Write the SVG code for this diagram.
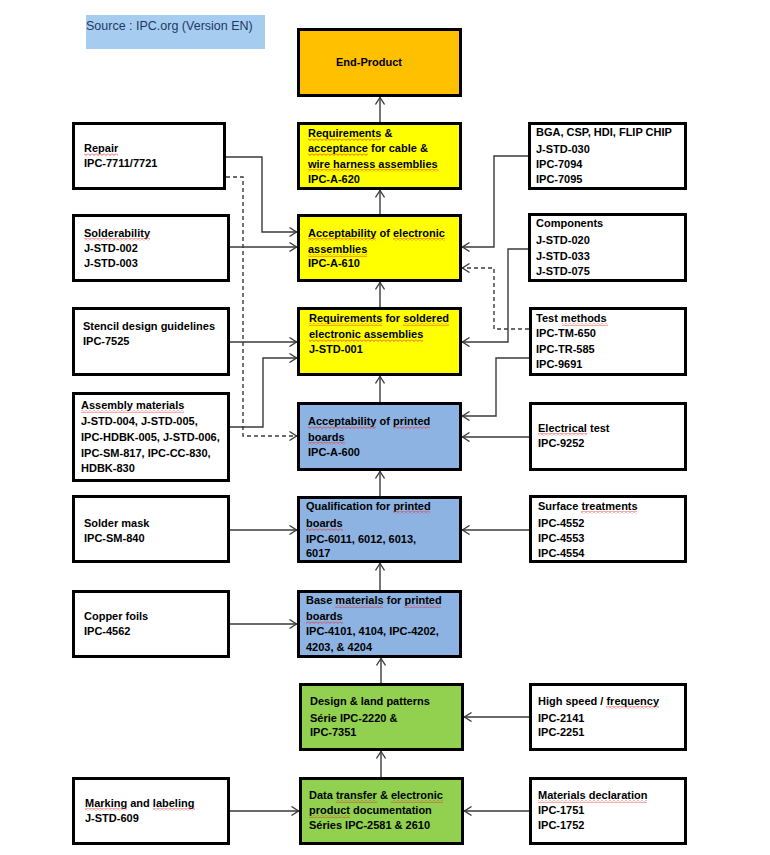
<svg xmlns="http://www.w3.org/2000/svg" width="770" height="855" viewBox="0 0 770 855">
<style>
.b{stroke:#000;stroke-width:3}
.w{fill:#fff}.y{fill:#ffff00}.bl{fill:#8db3e2}.g{fill:#92d050}.o{fill:#ffc000}
text{font-family:"Liberation Sans",Arial,sans-serif;font-size:11px;font-weight:bold;fill:#000}
.c path{fill:none;stroke:#3a3a3a;stroke-width:1.4}
.c .d{stroke-dasharray:4,3}
.s{fill:url(#sq)}
</style>
<defs>
<marker id="a" viewBox="0 0 8 10" refX="8" refY="5" markerWidth="8" markerHeight="10" markerUnits="userSpaceOnUse" orient="auto">
<path d="M0.5,0.5 L7.5,5 L0.5,9.5" fill="none" stroke="#3a3a3a" stroke-width="1.3"/>
</marker>
<pattern id="sq" width="4" height="3" patternUnits="userSpaceOnUse">
<path d="M0,0.5 L2,2.5 L4,0.5" fill="none" stroke="#e8302a" stroke-width="0.8"/>
</pattern>
</defs>
<rect width="770" height="855" fill="#fff"/>
<g id="source">
<rect x="86" y="15" width="179" height="34" fill="#a6cdf0"/>
<text x="86" y="30" style="font-weight:normal;font-size:12.5px;fill:#1f3864">Source : IPC.org (Version EN)</text>
</g>
<g class="c" id="connectors">
<path d="M380,122V97" marker-end="url(#a)"/>
<path d="M380,214V190" marker-end="url(#a)"/>
<path d="M380,307V282" marker-end="url(#a)"/>
<path d="M380,402V376" marker-end="url(#a)"/>
<path d="M380,496V471" marker-end="url(#a)"/>
<path d="M380,590V563" marker-end="url(#a)"/>
<path d="M381,683V658" marker-end="url(#a)"/>
<path d="M381,777V751" marker-end="url(#a)"/>
<path d="M226,157H262V232H297" marker-end="url(#a)"/>
<path class="d" d="M226,177H243V436H297" marker-end="url(#a)"/>
<path d="M230,247H297" marker-end="url(#a)"/>
<path d="M230,342H297" marker-end="url(#a)"/>
<path d="M230,427H263V358H297" marker-end="url(#a)"/>
<path d="M230,530H297" marker-end="url(#a)"/>
<path d="M230,624H297" marker-end="url(#a)"/>
<path d="M230,811H299" marker-end="url(#a)"/>
<path d="M528,156H494V247H462" marker-end="url(#a)"/>
<path d="M528,249H508V342H462" marker-end="url(#a)"/>
<path class="d" d="M529,329H494V268H462" marker-end="url(#a)"/>
<path d="M529,358H496V416H462" marker-end="url(#a)"/>
<path d="M529,437H462" marker-end="url(#a)"/>
<path d="M529,530H462" marker-end="url(#a)"/>
<path d="M529,717H464" marker-end="url(#a)"/>
<path d="M529,811H464" marker-end="url(#a)"/>
</g>
<g id="end-product"><rect class="b o" x="298.5" y="29.5" width="162" height="66"/><text x="336" y="66">End-Product</text></g>
<g id="ipc-a-620"><rect class="b y" x="298.5" y="123.5" width="162" height="65"/>
<text x="308" y="137">Requirements &amp;</text><text x="308" y="152">acceptance  for cable  &amp;</text><text x="308" y="168">wire harness assemblies</text><text x="308" y="183">IPC-A-620</text>
<rect class="s" x="308" y="138" width="73" height="3"/><rect class="s" x="308" y="153" width="60" height="3"/><rect class="s" x="308" y="169" width="130" height="3"/></g>
<g id="ipc-a-610"><rect class="b y" x="298.5" y="215.5" width="162" height="65"/>
<text x="308" y="237">Acceptability  of electronic</text><text x="308" y="253">assemblies</text><text x="308" y="267">IPC-A-610</text>
<rect class="s" x="308" y="238" width="68" height="3"/><rect class="s" x="393" y="238" width="52" height="3"/><rect class="s" x="308" y="254" width="59" height="3"/></g>
<g id="j-std-001"><rect class="b y" x="298.5" y="308.5" width="162" height="66"/>
<text x="309" y="322">Requirements for soldered</text><text x="309" y="338">electronic assemblies</text><text x="309" y="353">J-STD-001</text>
<rect class="s" x="309" y="323" width="73" height="3"/><rect class="s" x="403" y="323" width="46" height="3"/><rect class="s" x="309" y="339" width="114" height="3"/></g>
<g id="ipc-a-600"><rect class="b bl" x="298.5" y="403.5" width="162" height="66"/>
<text x="308" y="425">Acceptability  of printed</text><text x="308" y="441">boards</text><text x="308" y="456">IPC-A-600</text>
<rect class="s" x="308" y="426" width="68" height="3"/><rect class="s" x="393" y="426" width="37" height="3"/><rect class="s" x="308" y="442" width="37" height="3"/></g>
<g id="qualification"><rect class="b bl" x="298.5" y="497.5" width="162" height="64"/>
<text x="306" y="510">Qualification  for printed</text><text x="306" y="527">boards</text><text x="306" y="543">IPC-6011, 6012, 6013,</text><text x="306" y="557">6017</text>
<rect class="s" x="393" y="511" width="37" height="3"/><rect class="s" x="306" y="528" width="37" height="3"/></g>
<g id="base-materials"><rect class="b bl" x="298.5" y="591.5" width="162" height="65"/>
<text x="306" y="604">Base materials for printed</text><text x="306" y="620">boards</text><text x="306" y="635">IPC-4101, 4104, IPC-4202,</text><text x="306" y="651">4203, &amp; 4204</text>
<rect class="s" x="335" y="605" width="48" height="3"/><rect class="s" x="404" y="605" width="37" height="3"/><rect class="s" x="306" y="621" width="37" height="3"/></g>
<g id="design"><rect class="b g" x="300.5" y="684.5" width="162" height="65"/>
<text x="310" y="705">Design &amp; land patterns</text><text x="310" y="722">Série IPC-2220 &amp;</text><text x="310" y="736">IPC-7351</text></g>
<g id="data-transfer"><rect class="b g" x="300.5" y="778.5" width="162" height="65"/>
<text x="309" y="799">Data transfer &amp; electronic</text><text x="309" y="814">product documentation</text><text x="309" y="829">Séries IPC-2581 &amp; 2610</text>
<rect class="s" x="336" y="800" width="41" height="3"/><rect class="s" x="391" y="800" width="52" height="3"/><rect class="s" x="309" y="815" width="41" height="3"/></g>
<g id="repair"><rect class="b w" x="73.5" y="123.5" width="151" height="65"/>
<text x="84" y="152">Repair</text><text x="84" y="167">IPC-7711/7721</text>
<rect class="s" x="84" y="153" width="34" height="3"/></g>
<g id="solderability"><rect class="b w" x="73.5" y="215.5" width="155" height="65"/>
<text x="84" y="237">Solderability</text><text x="84" y="252">J-STD-002</text><text x="84" y="267">J-STD-003</text>
<rect class="s" x="84" y="238" width="66" height="3"/></g>
<g id="stencil"><rect class="b w" x="73.5" y="308.5" width="155" height="66"/>
<text x="83" y="330">Stencil design guidelines</text><text x="83" y="345">IPC-7525</text></g>
<g id="assembly-materials"><rect class="b w" x="73.5" y="393.5" width="155" height="87"/>
<text x="81" y="409">Assembly materials</text><text x="81" y="425">J-STD-004, J-STD-005,</text><text x="81" y="441">IPC-HDBK-005, J-STD-006,</text><text x="81" y="457">IPC-SM-817, IPC-CC-830,</text><text x="81" y="472">HDBK-830</text>
<rect class="s" x="81" y="410" width="103" height="3"/></g>
<g id="solder-mask"><rect class="b w" x="73.5" y="496.5" width="155" height="65"/>
<text x="84" y="527">Solder mask</text><text x="84" y="542">IPC-SM-840</text></g>
<g id="copper-foils"><rect class="b w" x="73.5" y="591.5" width="155" height="65"/>
<text x="84" y="620">Copper foils</text><text x="84" y="635">IPC-4562</text></g>
<g id="marking"><rect class="b w" x="73.5" y="778.5" width="155" height="65"/>
<text x="85" y="807">Marking and labeling</text><text x="85" y="822">J-STD-609</text>
<rect class="s" x="85" y="808" width="42" height="3"/><rect class="s" x="153" y="808" width="42" height="3"/></g>
<g id="bga"><rect class="b w" x="529.5" y="123.5" width="156" height="65"/>
<text x="536" y="136">BGA,  CSP, HDI, FLIP CHIP</text><text x="536" y="153">J-STD-030</text><text x="536" y="168">IPC-7094</text><text x="536" y="183">IPC-7095</text></g>
<g id="components"><rect class="b w" x="529.5" y="214.5" width="156" height="66"/>
<text x="536" y="227">Components</text><text x="536" y="244">J-STD-020</text><text x="536" y="260">J-STD-033</text><text x="536" y="275">J-STD-075</text></g>
<g id="test-methods"><rect class="b w" x="530.5" y="308.5" width="155" height="66"/>
<text x="536" y="322">Test methods</text><text x="536" y="337">IPC-TM-650</text><text x="536" y="353">IPC-TR-585</text><text x="536" y="368">IPC-9691</text>
<rect class="s" x="562" y="323" width="46" height="3"/></g>
<g id="electrical-test"><rect class="b w" x="530.5" y="403.5" width="155" height="66"/>
<text x="538" y="432">Electrical  test</text><text x="538" y="447">IPC-9252</text>
<rect class="s" x="538" y="433" width="49" height="3"/></g>
<g id="surface-treatments"><rect class="b w" x="530.5" y="496.5" width="155" height="65"/>
<text x="538" y="510">Surface treatments</text><text x="538" y="527">IPC-4552</text><text x="538" y="542">IPC-4553</text><text x="538" y="557">IPC-4554</text>
<rect class="s" x="581" y="511" width="56" height="3"/></g>
<g id="high-speed"><rect class="b w" x="530.5" y="684.5" width="155" height="65"/>
<text x="538" y="705">High speed / frequency</text><text x="538" y="722">IPC-2141</text><text x="538" y="736">IPC-2251</text>
<rect class="s" x="606" y="706" width="53" height="3"/></g>
<g id="materials-declaration"><rect class="b w" x="530.5" y="778.5" width="155" height="65"/>
<text x="538" y="799">Materials declaration</text><text x="538" y="814">IPC-1751</text><text x="538" y="829">IPC-1752</text>
<rect class="s" x="538" y="800" width="109" height="3"/></g>
</svg>
